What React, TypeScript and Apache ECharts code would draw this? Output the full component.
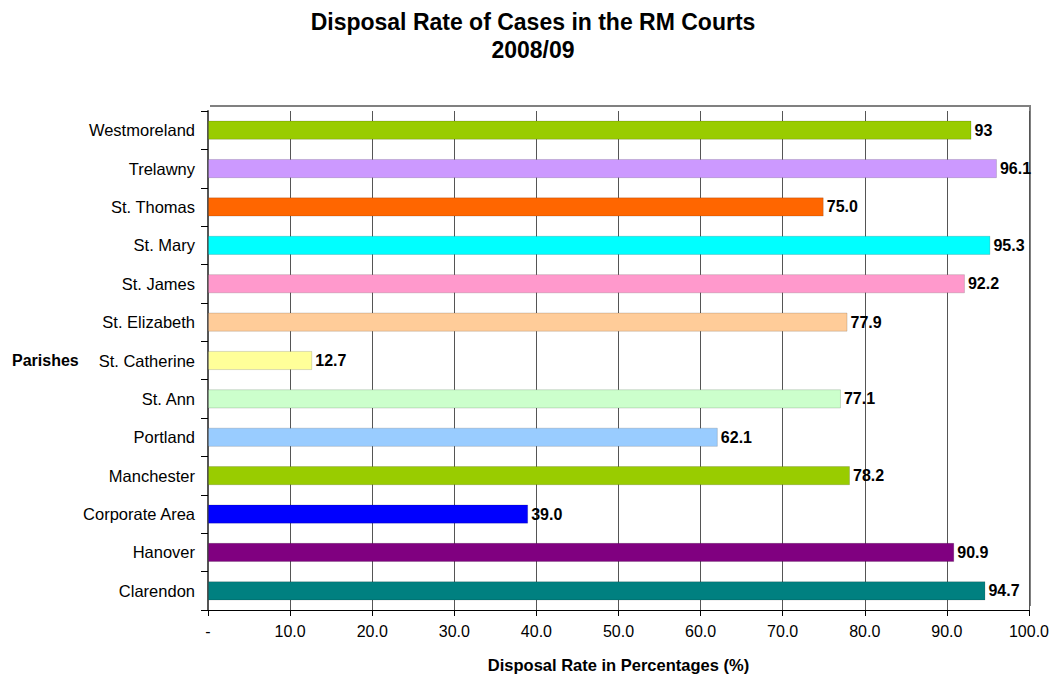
import React, { useEffect, useRef } from "react";
import * as echarts from "echarts";

const parishes = [
  "Westmoreland", "Trelawny", "St. Thomas", "St. Mary", "St. James", "St. Elizabeth",
  "St. Catherine", "St. Ann", "Portland", "Manchester", "Corporate Area", "Hanover", "Clarendon",
];
const rates = [93, 96.1, 75.0, 95.3, 92.2, 77.9, 12.7, 77.1, 62.1, 78.2, 39.0, 90.9, 94.7];
const rateLabels = ["93", "96.1", "75.0", "95.3", "92.2", "77.9", "12.7", "77.1", "62.1", "78.2", "39.0", "90.9", "94.7"];
const barColors = [
  "#99CC00", "#CC99FF", "#FF6600", "#00FFFF", "#FF99CC", "#FFCC99",
  "#FFFF99", "#CCFFCC", "#99CCFF", "#99CC00", "#0000FF", "#800080", "#008080",
];

const FONT = "'Liberation Sans', Arial, sans-serif";

export default function App() {
  const ref = useRef<HTMLDivElement>(null);
  useEffect(() => {
    if (!ref.current) return;
    const chart = echarts.init(ref.current, undefined, { renderer: "svg" });
    chart.setOption({
      animation: false,
      backgroundColor: "#ffffff",
      textStyle: { fontFamily: FONT },
      title: {
        text: "Disposal Rate of Cases in the RM Courts\n2008/09",
        left: 528,
        textAlign: "center",
        top: 3,
        textStyle: { fontFamily: FONT, fontSize: 23, fontWeight: "bold", color: "#000", lineHeight: 28 },
      },
      graphic: [
        {
          type: "polyline",
          shape: { points: [[210, 106], [1030, 106], [1030, 606]] },
          style: { stroke: "#808080", lineWidth: 2, fill: "none" },
          z: 0,
        },
        {
          type: "text",
          left: 12,
          top: 352,
          style: { text: "Parishes", font: `bold 16px ${FONT}`, fill: "#000" },
        },
      ],
      grid: { left: 208, right: 22, top: 111, bottom: 68 },
      xAxis: {
        type: "value",
        min: 0,
        max: 100,
        interval: 10,
        name: "Disposal Rate in Percentages (%)",
        nameLocation: "middle",
        nameGap: 46,
        nameTextStyle: { fontFamily: FONT, fontSize: 16.5, fontWeight: "bold", color: "#000" },
        axisLine: { show: true, lineStyle: { color: "#000", width: 1 } },
        axisTick: { show: true, length: 6, lineStyle: { color: "#000" } },
        axisLabel: {
          fontFamily: FONT,
          fontSize: 16,
          color: "#000",
          margin: 13,
          formatter: (v: number) => (v === 0 ? "-" : v.toFixed(1)),
        },
        splitLine: { show: true, lineStyle: { color: "#555", width: 1 } },
      },
      yAxis: {
        type: "category",
        data: parishes,
        inverse: true,
        axisLine: { show: true, lineStyle: { color: "#555", width: 2 } },
        axisTick: { show: true, length: 7, lineStyle: { color: "#000" } },
        axisLabel: { fontFamily: FONT, fontSize: 16.5, color: "#000", margin: 13 },
        splitLine: { show: false },
      },
      series: [
        {
          type: "bar",
          barWidth: "50%",
          data: rates.map((v, i) => ({
            value: v,
            itemStyle: { color: barColors[i], borderColor: "rgba(0,0,0,0.15)", borderWidth: 1 },
          })),
          label: {
            show: true,
            position: "right",
            distance: 3,
            fontFamily: FONT,
            fontSize: 16,
            fontWeight: "bold",
            color: "#000",
            formatter: (p: any) => rateLabels[p.dataIndex],
          },
        },
      ],
    });
    return () => chart.dispose();
  }, []);
  return <div ref={ref} style={{ width: 1052, height: 678, position: "absolute", left: 0, top: 0 }} />;
}
